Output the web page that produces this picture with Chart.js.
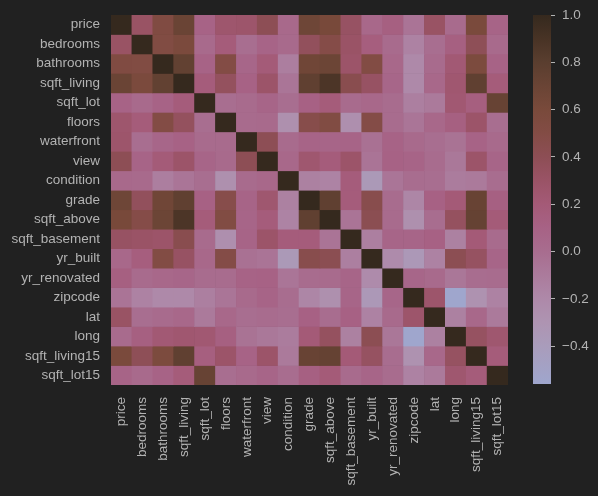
<!DOCTYPE html>
<html>
<head>
<meta charset="utf-8">
<script src="https://cdn.jsdelivr.net/npm/chart.js@4"></script>
<style>
  html,body{margin:0;padding:0;background:#212121;}
  #wrap{position:relative;width:598px;height:496px;background:#212121;}
  #heat{position:absolute;left:0;top:0;}
  #cbar{position:absolute;left:520px;top:0;}
</style>
</head>
<body>
<div id="wrap">
  <canvas id="heat" width="520" height="496"></canvas>
  <canvas id="cbar" width="78" height="496"></canvas>
</div>
<script>
const variables = ['price','bedrooms','bathrooms','sqft_living','sqft_lot','floors','waterfront','view','condition','grade','sqft_above','sqft_basement','yr_built','yr_renovated','zipcode','lat','long','sqft_living15','sqft_lot15'];

// correlation rows, same order as variables
const price         = [1, .31, .53, .70, .09, .26, .27, .40, .04, .67, .61, .32, .05, .13, -.05, .31, .02, .59, .08];
const bedrooms      = [.31, 1, .52, .58, .03, .18, -.01, .08, .03, .36, .48, .30, .15, .02, -.15, -.01, .13, .39, .03];
const bathrooms     = [.53, .52, 1, .75, .09, .50, .06, .19, -.12, .66, .69, .28, .51, .05, -.20, .02, .22, .57, .09];
const sqft_living   = [.70, .58, .75, 1, .17, .35, .10, .28, -.06, .76, .88, .44, .32, .06, -.20, .05, .24, .76, .18];
const sqft_lot      = [.09, .03, .09, .17, 1, -.01, .02, .07, -.01, .11, .18, .02, .05, .01, -.13, -.09, .23, .14, .72];
const floors        = [.26, .18, .50, .35, -.01, 1, .02, .03, -.26, .46, .52, -.25, .49, .01, -.06, .05, .13, .28, -.01];
const waterfront    = [.27, -.01, .06, .10, .02, .02, 1, .40, .02, .08, .07, .08, -.03, .09, .03, -.01, -.04, .09, .03];
const view          = [.40, .08, .19, .28, .07, .03, .40, 1, .05, .25, .17, .28, -.05, .10, .08, .01, -.08, .28, .07];
const condition     = [.04, .03, -.12, -.06, -.01, -.26, .02, .05, 1, -.14, -.16, .17, -.36, -.06, .00, -.01, -.11, -.09, -.00];
const grade         = [.67, .36, .66, .76, .11, .46, .08, .25, -.14, 1, .76, .17, .45, .01, -.18, .11, .20, .71, .12];
const sqft_above    = [.61, .48, .69, .88, .18, .52, .07, .17, -.16, .76, 1, -.05, .42, .02, -.26, -.00, .34, .73, .19];
const sqft_basement = [.32, .30, .28, .44, .02, -.25, .08, .28, .17, .17, -.05, 1, -.13, .07, .07, .11, -.14, .20, .02];
const yr_built      = [.05, .15, .51, .32, .05, .49, -.03, -.05, -.36, .45, .42, -.13, 1, -.22, -.35, -.15, .41, .33, .07];
const yr_renovated  = [.13, .02, .05, .06, .01, .01, .09, .10, -.06, .01, .02, .07, -.22, 1, .06, .03, -.07, -.00, .01];
const zipcode       = [-.05, -.15, -.20, -.20, -.13, -.06, .03, .08, .00, -.18, -.26, .07, -.35, .06, 1, .27, -.56, -.28, -.15];
const lat           = [.31, -.01, .02, .05, -.09, .05, -.01, .01, -.01, .11, -.00, .11, -.15, .03, .27, 1, -.14, .05, -.09];
const long          = [.02, .13, .22, .24, .23, .13, -.04, -.08, -.11, .20, .34, -.14, .41, -.07, -.56, -.14, 1, .33, .25];
const sqft_living15 = [.59, .39, .57, .76, .14, .28, .09, .28, -.09, .71, .73, .20, .33, -.00, -.28, .05, .33, 1, .18];
const sqft_lot15    = [.08, .03, .09, .18, .72, -.01, .03, .07, -.00, .12, .19, .02, .07, .01, -.15, -.09, .25, .18, 1];

const rows = [price,bedrooms,bathrooms,sqft_living,sqft_lot,floors,waterfront,view,condition,grade,sqft_above,sqft_basement,yr_built,yr_renovated,zipcode,lat,long,sqft_living15,sqft_lot15];

const cbarMin = -0.56, cbarMax = 1.0;
const cbarTicks = [-0.4,-0.2,0.0,0.2,0.4,0.6,0.8,1.0];

// colormap stops (value -> colour)
const cmap = [
  [-0.56,'#9fa6cd'],[-0.4,'#a99cbb'],[-0.3,'#ae94b2'],[-0.2,'#ae89a9'],[-0.1,'#ab7b9c'],
  [0.0,'#a86d8f'],[0.1,'#a76285'],[0.2,'#a45a77'],[0.3,'#9a5366'],[0.4,'#8d4e55'],
  [0.5,'#834c45'],[0.6,'#794a3b'],[0.7,'#6a4435'],[0.8,'#5a3e2f'],[0.9,'#483325'],[1.0,'#35291e']
];
const hex = h => [1,3,5].map(i=>parseInt(h.slice(i,i+2),16));
function colorFor(v){
  if (v<=cmap[0][0]) return cmap[0][1];
  for (let i=1;i<cmap.length;i++){
    if (v<=cmap[i][0]){
      const [v0,c0]=cmap[i-1], [v1,c1]=cmap[i];
      const t=(v-v0)/(v1-v0), a=hex(c0), b=hex(c1);
      return `rgb(${a.map((x,k)=>Math.round(x+(b[k]-x)*t)).join(',')})`;
    }
  }
  return cmap[cmap.length-1][1];
}

const txt = '#b3b3b3';
const font = {family:"'Liberation Sans', Arial, sans-serif", size:13.5};

new Chart(document.getElementById('heat'), {
  type:'bar',
  data:{
    labels: variables,
    datasets: rows.map((r,i)=>({
      label: variables[i],
      data: r.map(()=>1),
      backgroundColor: r.map(colorFor),
      borderWidth:0,
      barPercentage:1, categoryPercentage:1
    }))
  },
  options:{
    responsive:false, animation:false,
    layout:{padding:{top:15,right:12,left:0,bottom:0}},
    plugins:{legend:{display:false},tooltip:{enabled:false}},
    scales:{
      x:{
        stacked:true,
        grid:{display:false,drawTicks:false}, border:{display:false},
        ticks:{color:txt,font,minRotation:90,maxRotation:90,padding:12,autoSkip:false},
        afterFit: s=>{ s.height=111; s.paddingLeft=0; s.paddingRight=0; }
      },
      y:{
        stacked:true, min:0, max:variables.length, reverse:true,
        grid:{display:false,drawTicks:false}, border:{display:false},
        afterBuildTicks: s=>{ s.ticks = variables.map((_,i)=>({value:i+0.5})); },
        ticks:{color:txt,font,padding:11,autoSkip:false,callback:v=>variables[Math.floor(v)]},
        afterFit: s=>{ s.width=111; s.paddingTop=0; s.paddingBottom=0; }
      }
    }
  }
});

new Chart(document.getElementById('cbar'), {
  type:'bar',
  data:{
    labels:[''],
    datasets:[{
      data:[[cbarMin,cbarMax]],
      borderWidth:0, barPercentage:1, categoryPercentage:1,
      backgroundColor: ctx=>{
        const ch=ctx.chart, y=ch.scales.y;
        if (!ch.chartArea) return cmap[0][1];
        const g=ch.ctx.createLinearGradient(0,y.getPixelForValue(cbarMin),0,y.getPixelForValue(cbarMax));
        cmap.forEach(([v,c])=>g.addColorStop((v-cbarMin)/(cbarMax-cbarMin),c));
        return g;
      }
    }]
  },
  options:{
    responsive:false, animation:false,
    layout:{padding:{top:15,left:13,bottom:112,right:0}},
    plugins:{legend:{display:false},tooltip:{enabled:false}},
    scales:{
      x:{display:false},
      y:{
        position:'right', min:cbarMin, max:cbarMax,
        afterBuildTicks: s=>{ s.ticks = cbarTicks.map(v=>({value:v})); },
        grid:{drawOnChartArea:false,color:txt,tickLength:4,tickWidth:1},
        border:{display:false},
        ticks:{color:txt,font,padding:7,callback:v=>(v<0?'\u2212':'')+Math.abs(v).toFixed(1)},
        afterFit: s=>{ s.width=47; s.paddingTop=0; s.paddingBottom=0; }
      }
    }
  }
});
</script>
</body>
</html>
